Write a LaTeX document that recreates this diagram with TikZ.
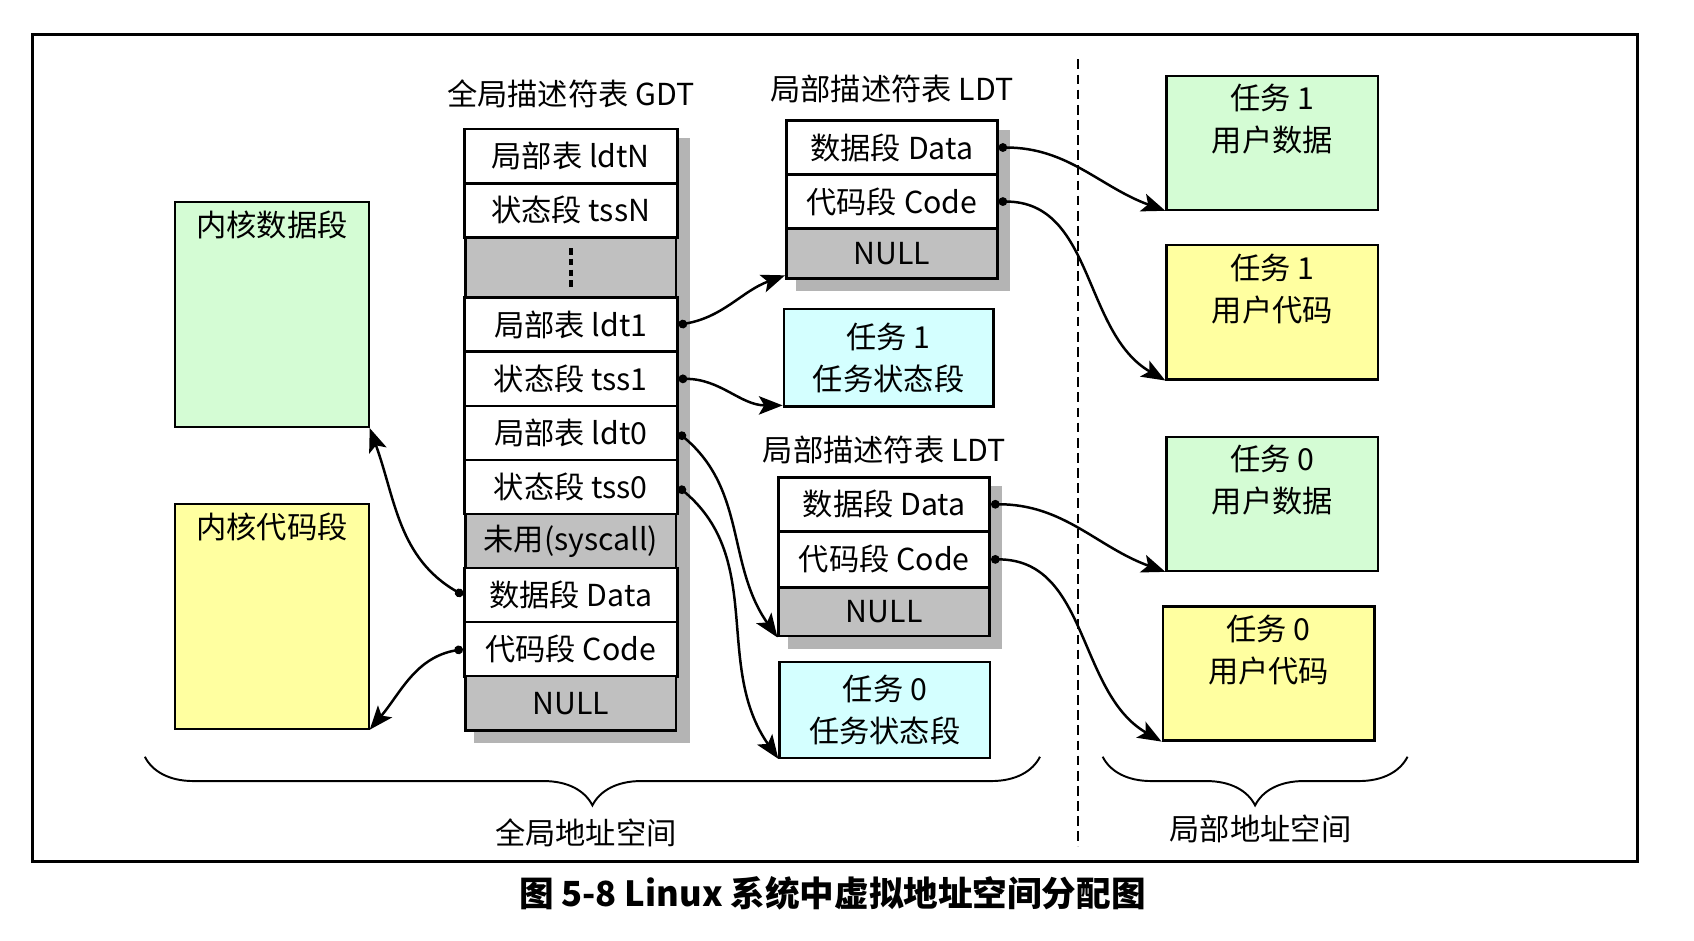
\documentclass[tikz,border=0pt]{standalone}
\usepackage{fontspec}
\setmainfont{Noto Sans CJK SC}
\usetikzlibrary{positioning}
\usetikzlibrary{matrix}
\usetikzlibrary{arrows.meta}
\usetikzlibrary{backgrounds}
\usetikzlibrary{decorations.pathreplacing}

\definecolor{datagreen}{HTML}{D4FCD4}
\definecolor{codeyellow}{HTML}{FFFFA0}
\definecolor{tsscyan}{HTML}{D4FFFF}
\definecolor{nullgray}{HTML}{C0C0C0}
\definecolor{shadegray}{HTML}{B4B4B4}

\begin{document}
\begin{tikzpicture}[x=1pt,y=1pt,font=\fontsize{28}{39}\selectfont,
  seg/.style={draw,line width=2.5pt,fill=white,minimum width=195pt,minimum height=50pt,inner sep=0pt},
  nullseg/.style={seg,fill=nullgray},
  desc/.style={matrix of nodes,row sep=-2.5pt,nodes={seg},anchor=north west,inner sep=0pt},
  area/.style={draw,line width=2pt,inner sep=0pt},
  link/.style={line width=2.3pt,{Circle[length=8pt]}-{Stealth[length=22pt,width=17pt,inset=5pt]}},
  space/.style={decorate,decoration={brace,mirror,amplitude=45pt},line width=1.8pt}]
\useasboundingbox (0,0) rectangle (1567,-870);
\draw[line width=3pt] (30,-32) rectangle (1515,-797);
\draw[line width=1.3pt,dash pattern=on 9pt off 5pt] (997,-55) -- (997,-783);

% global descriptor table
\matrix (gdt) [desc,nodes={minimum width=197pt}] at (428,-118)
  {
    局部表 ldtN \\
    状态段 tssN \\
    |[nullseg,minimum height=56pt]| \mbox{} \\
    局部表 ldt1 \\
    状态段 tss1 \\
    局部表 ldt0 \\
    状态段 tss0 \\
    |[nullseg]| 未用(syscall) \\
    数据段 Data \\
    代码段 Code \\
    |[nullseg]| NULL \\
  };
\draw[line width=4pt,dash pattern=on 6pt off 4pt] ([yshift=18pt]gdt-3-1.center) -- ([yshift=-18pt]gdt-3-1.center);
\node[above=15pt of gdt] (gdttitle) {全局描述符表 GDT};

% local descriptor tables
\matrix (ldt1) [desc] at (726,-110)
  {
    数据段 Data \\
    代码段 Code \\
    |[nullseg,minimum height=46pt]| NULL \\
  };
\node[above=11pt of ldt1] (ldt1title) {局部描述符表 LDT};
\matrix (ldt0) [desc] at (719,-440)
  {
    数据段 Data \\
    |[seg,minimum height=52pt]| 代码段 Code \\
    |[nullseg,minimum height=45pt]| NULL \\
  };
\node[above=7pt of ldt0] (ldt0title) {局部描述符表 LDT};

\begin{scope}[on background layer]
  \fill[shadegray] ([shift={(10pt,-10pt)}]gdt.north west) rectangle ([shift={(10pt,-10pt)}]gdt.south east);
  \fill[shadegray] ([shift={(10pt,-10pt)}]ldt1.north west) rectangle ([shift={(10pt,-10pt)}]ldt1.south east);
  \fill[shadegray] ([shift={(10pt,-10pt)}]ldt0.north west) rectangle ([shift={(10pt,-10pt)}]ldt0.south east);
\end{scope}

% task state segments
\node[area,fill=tsscyan,minimum width=194pt,minimum height=90pt,align=center] (tss1box) at (822,-331) {任务 1\\任务状态段};
\node[area,fill=tsscyan,minimum width=195pt,minimum height=89pt,align=center] (tss0box) at (818.5,-656.5) {任务 0\\任务状态段};

% kernel segments
\node[area,fill=datagreen,minimum width=179pt,minimum height=208pt] (kerneldata) at (251.5,-291) {};
\node[below=6pt of kerneldata.north] (kerneldatatext) {内核数据段};
\node[area,fill=codeyellow,minimum width=179pt,minimum height=208pt] (kernelcode) at (251.5,-570) {};
\node[below=6pt of kernelcode.north] (kernelcodetext) {内核代码段};

% user segments
\node[area,fill=datagreen,minimum width=196pt,minimum height=124pt] (user1data) at (1177,-132) {};
\node[below=5pt of user1data.north,align=center] (user1datatext) {任务 1\\用户数据};
\node[area,fill=codeyellow,minimum width=196pt,minimum height=124pt] (user1code) at (1177,-289) {};
\node[below=5pt of user1code.north,align=center] (user1codetext) {任务 1\\用户代码};
\node[area,fill=datagreen,minimum width=196pt,minimum height=124pt] (user0data) at (1177,-466) {};
\node[below=5pt of user0data.north,align=center] (user0datatext) {任务 0\\用户数据};
\node[area,fill=codeyellow,minimum width=196pt,minimum height=124pt] (user0code) at (1173.5,-623) {};
\node[below=5pt of user0code.north,align=center] (user0codetext) {任务 0\\用户代码};

\path[link]
  (gdt-4-1.east) edge[out=10,in=200] ([yshift=4pt]ldt1-3-1.south west)
  (gdt-5-1.east) edge[out=0,in=180] ([yshift=2pt]tss1box.south west)
  (gdt-6-1.east) edge[out=-40,in=125] (ldt0-3-1.south west)
  (gdt-7-1.east) edge[out=-40,in=125] (tss0box.south west)
  (gdt-9-1.west) edge[out=150,in=-70] (kerneldata.south east)
  (gdt-10-1.west) edge[out=190,in=50] (kernelcode.south east)
  (ldt1-1-1.east) edge[out=0,in=160] (user1data.south west)
  (ldt1-2-1.east) edge[out=0,in=150] (user1code.south west)
  (ldt0-1-1.east) edge[out=0,in=160] (user0data.south west)
  (ldt0-2-1.east) edge[out=0,in=150] (user0code.south west);

% address spaces
\coordinate (globalleft) at (134,-700);
\coordinate (globalright) at (962,-700);
\coordinate (localleft) at (1020,-700);
\coordinate (localright) at (1302,-700);
\draw[space] (globalleft) -- (globalright);
\draw[space] (localleft) -- (localright);
\node (globallabel) at (542,-770) {全局地址空间};
\node (locallabel) at (1166,-767) {局部地址空间};

\node[font=\fontsize{32}{36}\selectfont\bfseries] (caption) at (770,-826) {图 5-8 Linux 系统中虚拟地址空间分配图};
\end{tikzpicture}
\end{document}
